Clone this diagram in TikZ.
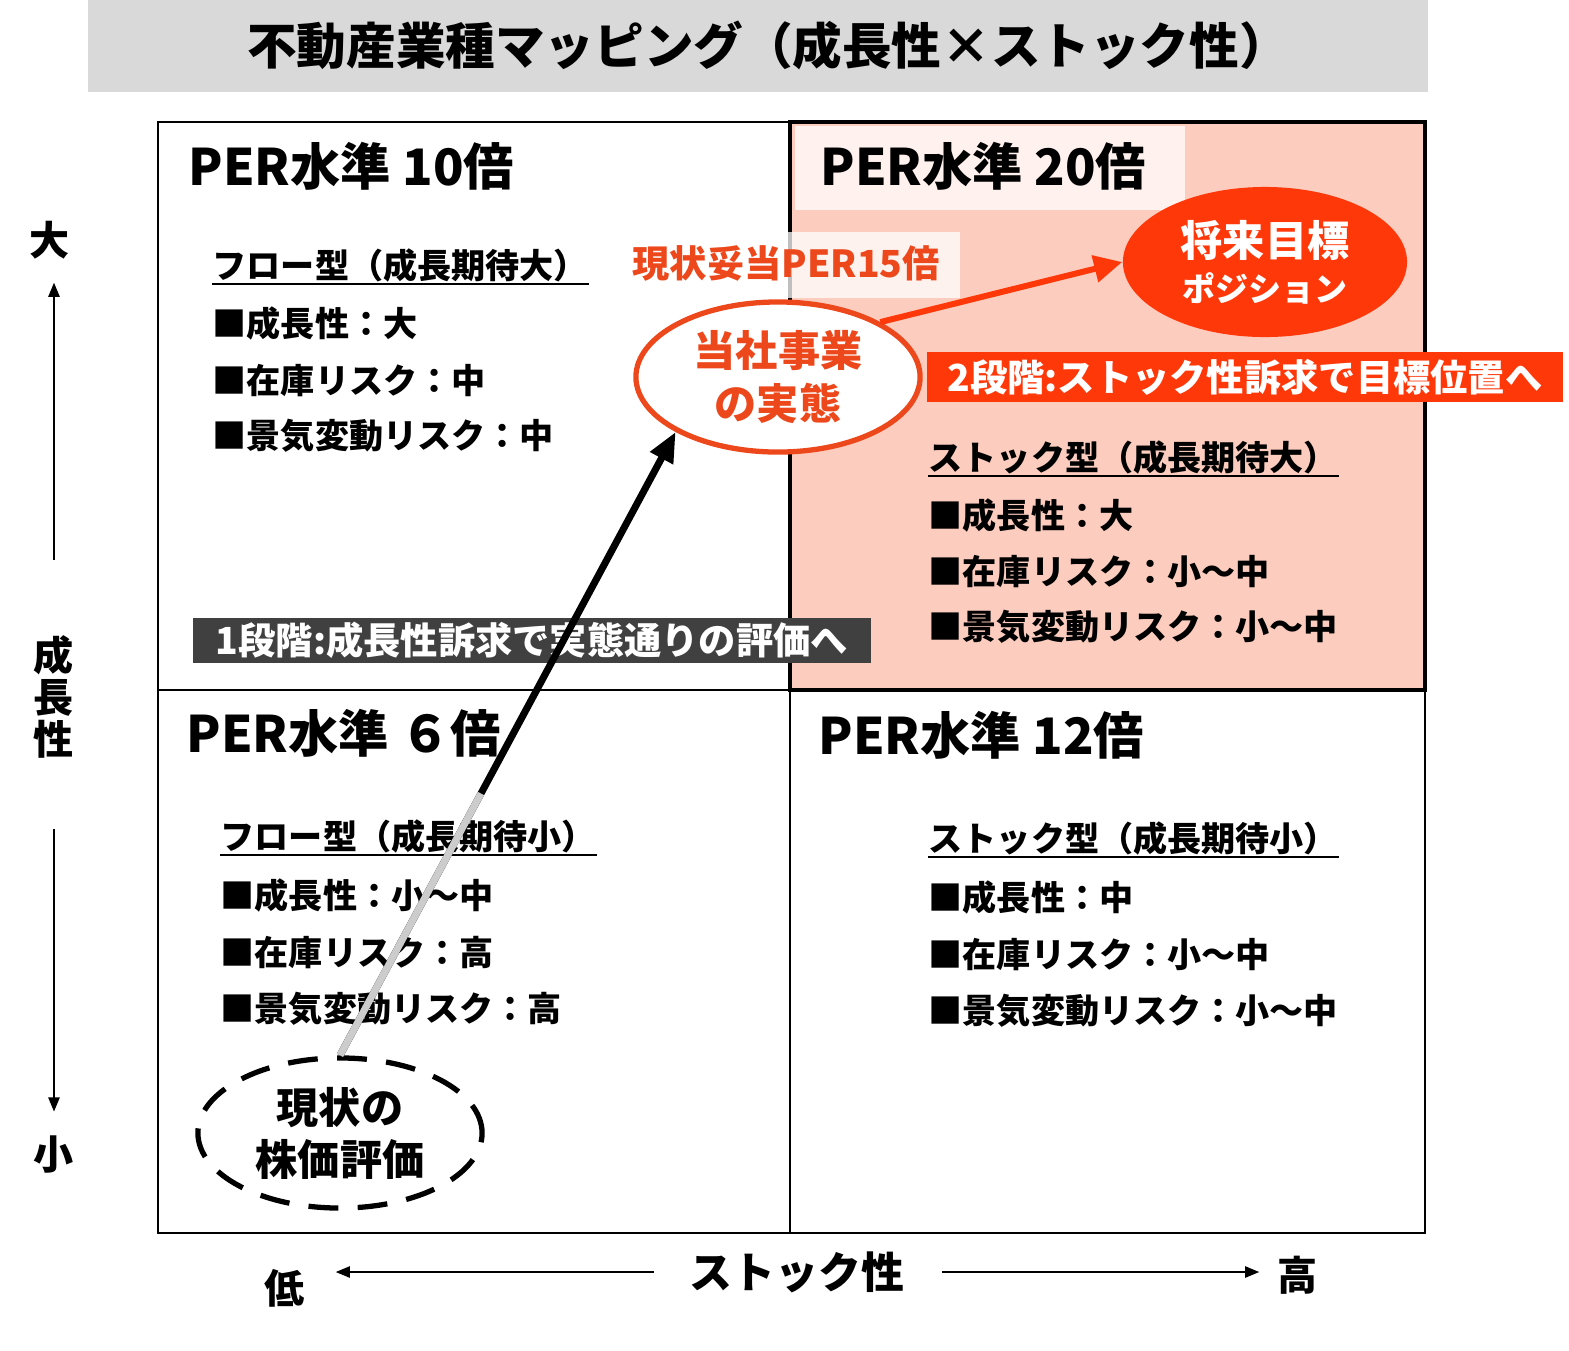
\documentclass[tikz,border=0pt]{standalone}
\usepackage{fontspec}
\setmainfont{Noto Sans CJK JP}
\usetikzlibrary{positioning, arrows.meta, calc, shapes.geometric}
\definecolor{titlegray}{RGB}{217,217,217}
\definecolor{salmon}{RGB}{252,204,190}
\definecolor{palesalmon}{RGB}{255,242,238}
\definecolor{accentred}{RGB}{255,56,10}
\definecolor{markred}{RGB}{236,72,28}
\definecolor{bandgray}{RGB}{64,64,64}

\begin{document}
\begin{tikzpicture}[x=0.01cm, y=-0.01cm,
    title/.style={font=\bfseries\fontsize{14.1pt}{16pt}\selectfont, inner sep=0},
    per/.style={font=\bfseries\fontsize{14.3pt}{18pt}\selectfont, anchor=west, inner sep=0},
    body/.style={font=\bfseries\fontsize{9.7pt}{12pt}\selectfont, anchor=west, inner sep=0},
    band/.style={font=\bfseries\fontsize{10.6pt}{12pt}\selectfont, text=white, inner sep=0},
    axislabel/.style={font=\bfseries\fontsize{11.4pt}{12pt}\selectfont, inner sep=0, align=center},
    axisline/.style={-{Triangle[length=4pt, width=3.2pt]}, line width=0.45pt},
    bubble/.style={ellipse, minimum width=2.84cm, minimum height=1.5cm, inner sep=0,
      align=center, font=\bfseries\fontsize{12pt}{14.8pt}\selectfont}]
  \useasboundingbox (0,0) rectangle (1569,1350);

  \fill[titlegray] (88,0) rectangle (1428,92);
  \node[title] (ttl) at (768,45) {不動産業種マッピング（成長性×ストック性）};

  \fill[salmon] (790,122) rectangle (1425,690);
  \draw[line width=0.8pt] (158,122) rectangle (1425,1233);
  \draw[line width=0.8pt] (790,122) -- (790,1233) (158,690) -- (1425,690);
  \draw[line width=1.2pt] (790,122) rectangle (1425,690);
  \fill[palesalmon] (795,126) rectangle (1185,210);

  \node[per] (per10) at (188,166) {PER水準 10倍};
  \node[per] (per20) at (820,166) {PER水準 20倍};
  \node[per] (per6) at (186,733) {PER水準 ６倍};
  \node[per] (per12) at (818,735) {PER水準 12倍};

  \node[body] (tl0) at (212,265) {フロー型（成長期待大）};
  \node[body, below=0.58cm of tl0.west, anchor=west] (tl1) {■成長性：大};
  \node[body, below=0.57cm of tl1.west, anchor=west] (tl2) {■在庫リスク：中};
  \node[body, below=0.56cm of tl2.west, anchor=west] (tl3) {■景気変動リスク：中};

  \node[body] (tr0) at (928,457) {ストック型（成長期待大）};
  \node[body, below=0.58cm of tr0.west, anchor=west] (tr1) {■成長性：大};
  \node[body, below=0.56cm of tr1.west, anchor=west] (tr2) {■在庫リスク：小〜中};
  \node[body, below=0.56cm of tr2.west, anchor=west] (tr3) {■景気変動リスク：小〜中};

  \node[body] (bl0) at (220,836) {フロー型（成長期待小）};
  \node[body, below=0.59cm of bl0.west, anchor=west] (bl1) {■成長性：小〜中};
  \node[body, below=0.57cm of bl1.west, anchor=west] (bl2) {■在庫リスク：高};
  \node[body, below=0.57cm of bl2.west, anchor=west] (bl3) {■景気変動リスク：高};

  \node[body] (br0) at (928,838) {ストック型（成長期待小）};
  \node[body, below=0.59cm of br0.west, anchor=west] (br1) {■成長性：中};
  \node[body, below=0.57cm of br1.west, anchor=west] (br2) {■在庫リスク：小〜中};
  \node[body, below=0.57cm of br2.west, anchor=west] (br3) {■景気変動リスク：小〜中};

  \foreach \h in {tl0, tr0, bl0, br0}
    \draw[line width=0.55pt] ([yshift=-0.5pt]\h.south west) -- ([yshift=-0.5pt]\h.south east);

  \fill[white, opacity=0.75] (620,232) rectangle (960,298);
  \node[body, font=\bfseries\fontsize{10.6pt}{12pt}\selectfont, text=markred] (fair) at (632,263) {現状妥当PER15倍};

  \node[bubble, draw=markred, line width=1.5pt, fill=white, text=markred] (real) at (778,377) {当社事業\\の実態};
  \node[bubble, fill=accentred, text=white] (goal) at (1265,262)
    {将来目標\\[-2pt]{\fontsize{9.4pt}{12pt}\selectfont ポジション}};
  \node[bubble, draw, line width=1.5pt, dash pattern=on 8.5pt off 5.5pt] (now) at (340,1133) {現状の\\株価評価};

  \node[band, fill=bandgray, minimum width=6.78cm, minimum height=0.45cm] (step1) at (532,640)
    {1段階:成長性訴求で実態通りの評価へ};
  \node[band, fill=accentred, minimum width=6.36cm, minimum height=0.5cm] (step2) at (1245,377)
    {2段階:ストック性訴求で目標位置へ};

  \draw[line width=2pt, -{Triangle[length=8.5pt, width=7pt]}] (now.north) -- (real.south west);
  \draw[line width=2pt, gray!40] (now.north) -- ($(now.north)!0.42!(real.south west)$);
  \draw[line width=1.7pt, accentred, -{Triangle[length=8pt, width=7.5pt]}] (real.north east) -- (goal.west);

  \node[axislabel] (big) at (50,240) {大};
  \node[axislabel] (grow) at (54,697) {成\\長\\性};
  \node[axislabel] (small) at (54,1155) {小};
  \node[axislabel] (low) at (285,1288) {低};
  \node[axislabel, font=\bfseries\fontsize{12.2pt}{14pt}\selectfont] (stock) at (797,1272) {ストック性};
  \node[axislabel] (high) at (1298,1275) {高};

  \draw[axisline, shorten <=0.75cm, shorten >=0.23cm] (grow.north) -- (grow.north |- big.south);
  \draw[axisline, shorten <=0.7cm, shorten >=0.24cm] (grow.south) -- (grow.south |- small.north);
  \draw[axisline, shorten <=0.35cm, shorten >=0.3cm] (stock.west) -- (stock.west -| low.east);
  \draw[axisline, shorten <=0.37cm, shorten >=0.18cm] (stock.east) -- (stock.east -| high.west);
\end{tikzpicture}
\end{document}
